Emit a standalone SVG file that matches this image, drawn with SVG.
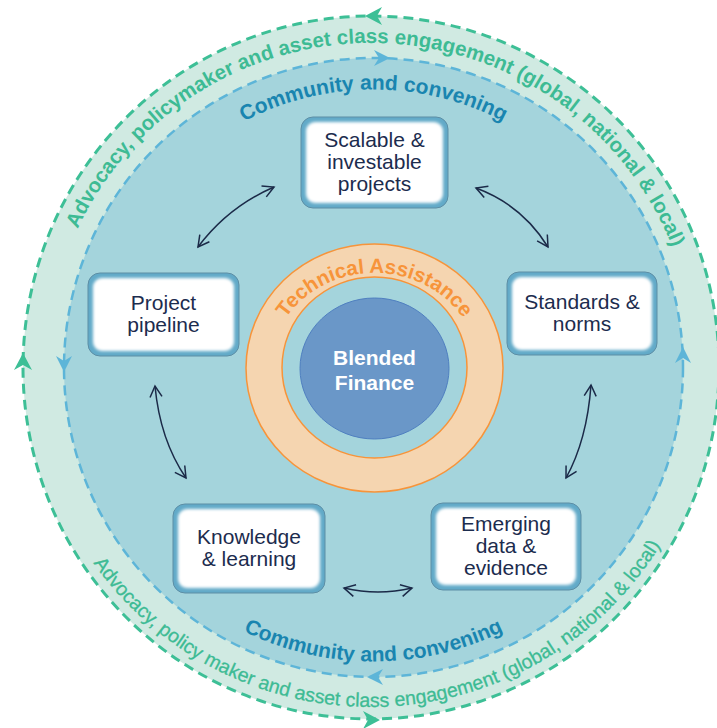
<svg xmlns="http://www.w3.org/2000/svg" width="717" height="728" viewBox="0 0 717 728">
<defs>
<style>
.ring-green{fill:#d0eae2;stroke:#3dbf96;stroke-width:3;stroke-dasharray:10 6}
.ring-blue{fill:#a4d4dc;stroke:#5db5d8;stroke-width:2.5;stroke-dasharray:10 6}
.ah-green{fill:#3dbf96}
.ah-blue{fill:#5db5d8}
.t-green-top{font-family:"Liberation Sans",Arial,sans-serif;font-weight:bold;font-size:20.5px;fill:#3dbb94}
.t-green-bot{font-family:"Liberation Sans",Arial,sans-serif;font-size:19.5px;fill:#3dbb94;stroke:#3dbb94;stroke-width:0.3}
.t-comm{font-family:"Liberation Sans",Arial,sans-serif;font-weight:bold;font-size:21px;fill:#1985b0}
.t-ta{font-family:"Liberation Sans",Arial,sans-serif;font-weight:bold;font-size:20.5px;fill:#f7943a}
.t-bf{font-family:"Liberation Sans",Arial,sans-serif;font-weight:bold;font-size:21px;fill:#ffffff}
.box-outer{fill:#62aac8;stroke:#5d8ea5;stroke-width:1}
.box-inner{fill:#ffffff;filter:url(#soft)}
.node-text{font-family:"Liberation Sans",Arial,sans-serif;font-size:21px;fill:#1c2c4e;text-anchor:middle}
.conn{fill:none;stroke:#1b2a48;stroke-width:1.5;marker-start:url(#open);marker-end:url(#open)}
</style>
<filter id="soft" x="-10%" y="-10%" width="120%" height="120%">
<feGaussianBlur stdDeviation="1.4"/>
</filter>
<marker id="open" viewBox="-12 -7 14 14" markerWidth="14" markerHeight="14" refX="0" refY="0" orient="auto-start-reverse" markerUnits="userSpaceOnUse">
<path d="M-11,-6 L0,0 L-11,6" fill="none" stroke="#1b2a48" stroke-width="1.5"/>
</marker>
<path id="p-green-top" d="M46.5,367.5 A324.5,324.5 0 0 1 695.5,367.5"/>
<path id="p-green-bot" d="M31.5,367.5 A339.5,339.5 0 0 0 710.5,367.5"/>
<path id="p-comm-top" d="M95.5,367.5 A278,278 0 0 1 651.5,367.5"/>
<path id="p-comm-bot" d="M79.5,367.5 A294,294 0 0 0 667.5,367.5"/>
<path id="p-ta" d="M270.5,368 A104,95 0 0 1 478.5,368"/>
</defs>

<g id="outer-ring">
<ellipse class="ring-green" cx="371" cy="367.5" rx="348" ry="351.5"/>
<polygon class="ah-green" points="0,0 -17,-9 -12,0 -17,9" transform="translate(365,16) rotate(180)"/>
<polygon class="ah-green" points="0,0 -17,-9 -12,0 -17,9" transform="translate(23,353) rotate(-90)"/>
<polygon class="ah-green" points="0,0 -17,-9 -12,0 -17,9" transform="translate(380,720)"/>
<text class="t-green-top"><textPath href="#p-green-top" startOffset="51%" text-anchor="middle">Advocacy, policymaker and asset class engagement (global, national &amp; local)</textPath></text>
<text class="t-green-bot"><textPath href="#p-green-bot" startOffset="51%" text-anchor="middle">Advocacy, policy maker and asset class engagement (global, national &amp; local)</textPath></text>
</g>

<g id="community-ring">
<circle class="ring-blue" cx="373.5" cy="367.5" r="309.5"/>
<polygon class="ah-blue" points="0,0 -16,-8 -11,0 -16,8" transform="translate(390,58)"/>
<polygon class="ah-blue" points="0,0 -16,-8 -11,0 -16,8" transform="translate(64,372) rotate(90)"/>
<polygon class="ah-blue" points="0,0 -16,-8 -11,0 -16,8" transform="translate(683,347) rotate(-90)"/>
<polygon class="ah-blue" points="0,0 -16,-8 -11,0 -16,8" transform="translate(367,677) rotate(180)"/>
<text class="t-comm"><textPath href="#p-comm-top" startOffset="50%" text-anchor="middle">Community and convening</textPath></text>
<text class="t-comm"><textPath href="#p-comm-bot" startOffset="50%" text-anchor="middle">Community and convening</textPath></text>
</g>

<g id="technical-assistance">
<ellipse cx="374.5" cy="368" rx="128.5" ry="124" fill="#f5d5b0" stroke="#f7943a" stroke-width="1.5"/>
<ellipse cx="374.5" cy="367.5" rx="92.5" ry="90.5" fill="#a4d4dc" stroke="#f7943a" stroke-width="1.5"/>
<text class="t-ta"><textPath href="#p-ta" startOffset="50%" text-anchor="middle">Technical Assistance</textPath></text>
</g>

<g id="blended-finance">
<ellipse cx="374.5" cy="368.5" rx="74.5" ry="70.5" fill="#6a97c8" stroke="#4f7fc0" stroke-width="1"/>
<text class="t-bf" text-anchor="middle"><tspan x="374.5" y="365">Blended</tspan><tspan x="374.5" y="390">Finance</tspan></text>
</g>

<g id="node-scalable">
<rect class="box-outer" x="301" y="117" width="147" height="91" rx="12"/>
<rect class="box-inner" x="306" y="122" width="137" height="81" rx="9"/>
<text class="node-text"><tspan x="374.5" y="147">Scalable &amp;</tspan><tspan x="374.5" y="169">investable</tspan><tspan x="374.5" y="191">projects</tspan></text>
</g>

<g id="node-standards">
<rect class="box-outer" x="507" y="272" width="150" height="83" rx="12"/>
<rect class="box-inner" x="512" y="277" width="140" height="73" rx="9"/>
<text class="node-text"><tspan x="582" y="309">Standards &amp;</tspan><tspan x="582" y="331">norms</tspan></text>
</g>

<g id="node-emerging">
<rect class="box-outer" x="431" y="503" width="150" height="87" rx="12"/>
<rect class="box-inner" x="436" y="508" width="140" height="77" rx="9"/>
<text class="node-text"><tspan x="506" y="531">Emerging</tspan><tspan x="506" y="553">data &amp;</tspan><tspan x="506" y="575">evidence</tspan></text>
</g>

<g id="node-knowledge">
<rect class="box-outer" x="173" y="504" width="152" height="89" rx="12"/>
<rect class="box-inner" x="178" y="509" width="142" height="79" rx="9"/>
<text class="node-text"><tspan x="249" y="544">Knowledge</tspan><tspan x="249" y="566">&amp; learning</tspan></text>
</g>

<g id="node-pipeline">
<rect class="box-outer" x="88" y="273" width="151" height="83" rx="12"/>
<rect class="box-inner" x="93" y="278" width="141" height="73" rx="9"/>
<text class="node-text"><tspan x="163.5" y="310">Project</tspan><tspan x="163.5" y="332">pipeline</tspan></text>
</g>

<g id="connectors">
<path class="conn" d="M198,247 Q228,207 274,187"/>
<path class="conn" d="M476,188 Q522,205 548,247"/>
<path class="conn" d="M591,385 Q587,440 566,478"/>
<path class="conn" d="M412,588 Q378,596 344,588"/>
<path class="conn" d="M186,478 Q160,440 155,386"/>
</g>
</svg>
